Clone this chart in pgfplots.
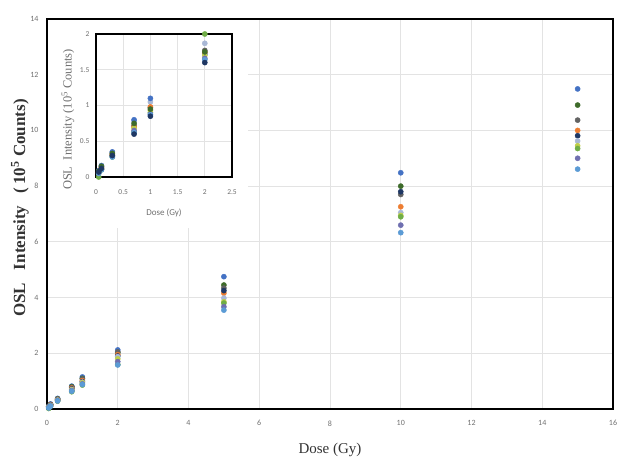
\documentclass[border=0pt]{standalone}
\usepackage{pgfplots}
\pgfplotsset{compat=1.18}
\usepackage{fontspec}
\setmainfont{Liberation Serif}
\newfontfamily\tickfont{Carlito}
\definecolor{cA}{HTML}{4472C4}
\definecolor{cB}{HTML}{3E6B2A}
\definecolor{cC}{HTML}{636363}
\definecolor{cD}{HTML}{ED7D31}
\definecolor{cE}{HTML}{1F3864}
\definecolor{cF}{HTML}{A9B8D6}
\definecolor{cG}{HTML}{BFCF4A}
\definecolor{cH}{HTML}{70AD47}
\definecolor{cI}{HTML}{6F6FB0}
\definecolor{cJ}{HTML}{5B9BD5}
\definecolor{gridc}{HTML}{E3E3E3}
\definecolor{tickc}{HTML}{707070}
\pgfplotsset{
  pt/.style={only marks, mark=*, mark size=2.6pt, color=#1},
}
\begin{document}
\begin{tikzpicture}
\begin{axis}[
  scale only axis, width=566pt, height=390pt,
  xmin=0, xmax=16, ymin=0, ymax=14,
  xtick={0,2,...,16}, ytick={0,2,...,14},
  grid=major, major grid style={draw=gridc, line width=0.8pt},
  axis line style={black, line width=1.5pt},
  tick style={draw=none},
  tick label style={font=\tickfont\fontsize{8}{9}\selectfont, text=tickc},
  /pgf/number format/assume math mode=true,
  xticklabel style={yshift=-8pt},
  yticklabel style={xshift=-5pt},
  xlabel={Dose (Gy)},
  ylabel={\textbf{OSL\ \ \ Intensity\ \ \ (\,10\textsuperscript{5} Counts)}},
  xlabel style={font=\fontsize{15}{17}\selectfont, text=black!80, at={(axis description cs:0.5,0)}, anchor=center, yshift=-41pt},
  ylabel style={font=\fontsize{17}{19}\selectfont, text=black!80, at={(axis description cs:0,0.5)}, anchor=center, yshift=27pt, xshift=6pt},
  clip=false,
]
\addplot[pt=cA] coordinates {(0.05,0.10)(0.1,0.18)(0.3,0.38)(0.7,0.82)(1,1.15)(2,2.12)(5,4.75)(10,8.48)(15,11.49)};
\addplot[pt=cB] coordinates {(0.05,0.09)(0.1,0.16)(0.3,0.36)(0.7,0.80)(1,1.10)(2,2.02)(5,4.45)(10,8.00)(15,10.91)};
\addplot[pt=cC] coordinates {(0.05,0.09)(0.1,0.16)(0.3,0.35)(0.7,0.78)(1,1.08)(2,2.05)(5,4.34)(10,7.70)(15,10.37)};
\addplot[pt=cD] coordinates {(0.05,0.08)(0.1,0.15)(0.3,0.34)(0.7,0.75)(1,1.02)(2,1.95)(5,4.16)(10,7.26)(15,10.00)};
\addplot[pt=cE] coordinates {(0.05,0.08)(0.1,0.14)(0.3,0.33)(0.7,0.72)(1,0.98)(2,1.90)(5,4.25)(10,7.80)(15,9.81)};
\addplot[pt=cF] coordinates {(0.05,0.07)(0.1,0.13)(0.3,0.32)(0.7,0.70)(1,0.96)(2,1.88)(5,3.98)(10,7.05)(15,9.62)};
\addplot[pt=cG] coordinates {(0.05,0.06)(0.1,0.12)(0.3,0.31)(0.7,0.68)(1,0.94)(2,1.80)(5,3.85)(10,6.95)(15,9.45)};
\addplot[pt=cH] coordinates {(0.05,0.02)(0.1,0.10)(0.3,0.28)(0.7,0.62)(1,0.86)(2,1.60)(5,3.80)(10,6.90)(15,9.35)};
\addplot[pt=cI] coordinates {(0.05,0.05)(0.1,0.11)(0.3,0.30)(0.7,0.66)(1,0.90)(2,1.70)(5,3.67)(10,6.60)(15,9.00)};
\addplot[pt=cJ] coordinates {(0.05,0.04)(0.1,0.10)(0.3,0.29)(0.7,0.64)(1,0.88)(2,1.58)(5,3.55)(10,6.33)(15,8.61)};
\end{axis}
\fill[white] (1pt,181pt) rectangle (201pt,389pt);
\begin{axis}[
  at={(49pt,232pt)}, anchor=south west,
  scale only axis, width=136pt, height=143pt,
  xmin=0, xmax=2.5, ymin=0, ymax=2,
  xtick={0,0.5,...,2.5}, ytick={0,0.5,...,2},
  grid=major, major grid style={draw=gridc, line width=0.7pt},
  axis background/.style={fill=white},
  axis line style={black, line width=1.5pt},
  tick style={draw=none},
  tick label style={font=\tickfont\fontsize{7.5}{9}\selectfont, text=tickc},
  /pgf/number format/assume math mode=true,
  xticklabel style={yshift=-9pt},
  yticklabel style={xshift=-3pt},
  xlabel={Dose (Gy)},
  ylabel={OSL\ \ Intensity (10\textsuperscript{5} Counts)},
  xlabel style={font=\tickfont\fontsize{9}{10}\selectfont, text=tickc, at={(axis description cs:0.5,0)}, anchor=center, yshift=-36pt},
  ylabel style={font=\fontsize{12.5}{14}\selectfont, text=tickc, at={(axis description cs:0,0.5)}, anchor=center, yshift=28pt, xshift=-14pt},
  clip=false,
]
\addplot[pt=cF] coordinates {(0.05,0.06)(0.1,0.12)(0.3,0.35)(0.7,0.78)(1,1.05)(2,1.87)};
\addplot[pt=cH] coordinates {(0.05,0.00)(0.1,0.10)(0.3,0.28)(0.7,0.63)(1,0.90)(2,2.00)};
\addplot[pt=cA] coordinates {(0.05,0.09)(0.1,0.16)(0.3,0.35)(0.7,0.80)(1,1.10)(2,1.72)};
\addplot[pt=cC] coordinates {(0.05,0.08)(0.1,0.14)(0.3,0.32)(0.7,0.72)(1,0.97)(2,1.77)};
\addplot[pt=cD] coordinates {(0.05,0.07)(0.1,0.13)(0.3,0.31)(0.7,0.70)(1,0.98)(2,1.74)};
\addplot[pt=cG] coordinates {(0.05,0.05)(0.1,0.11)(0.3,0.30)(0.7,0.68)(1,0.93)(2,1.70)};
\addplot[pt=cI] coordinates {(0.05,0.06)(0.1,0.11)(0.3,0.29)(0.7,0.65)(1,0.88)(2,1.66)};
\addplot[pt=cJ] coordinates {(0.05,0.05)(0.1,0.10)(0.3,0.28)(0.7,0.62)(1,0.87)(2,1.64)};
\addplot[pt=cB] coordinates {(0.05,0.08)(0.1,0.15)(0.3,0.33)(0.7,0.75)(1,0.95)(2,1.75)};
\addplot[pt=cE] coordinates {(0.05,0.07)(0.1,0.12)(0.3,0.30)(0.7,0.60)(1,0.85)(2,1.60)};
\end{axis}
\pgfresetboundingbox
\useasboundingbox (-47pt,-60pt) rectangle (584pt,409pt);
\end{tikzpicture}
\end{document}
